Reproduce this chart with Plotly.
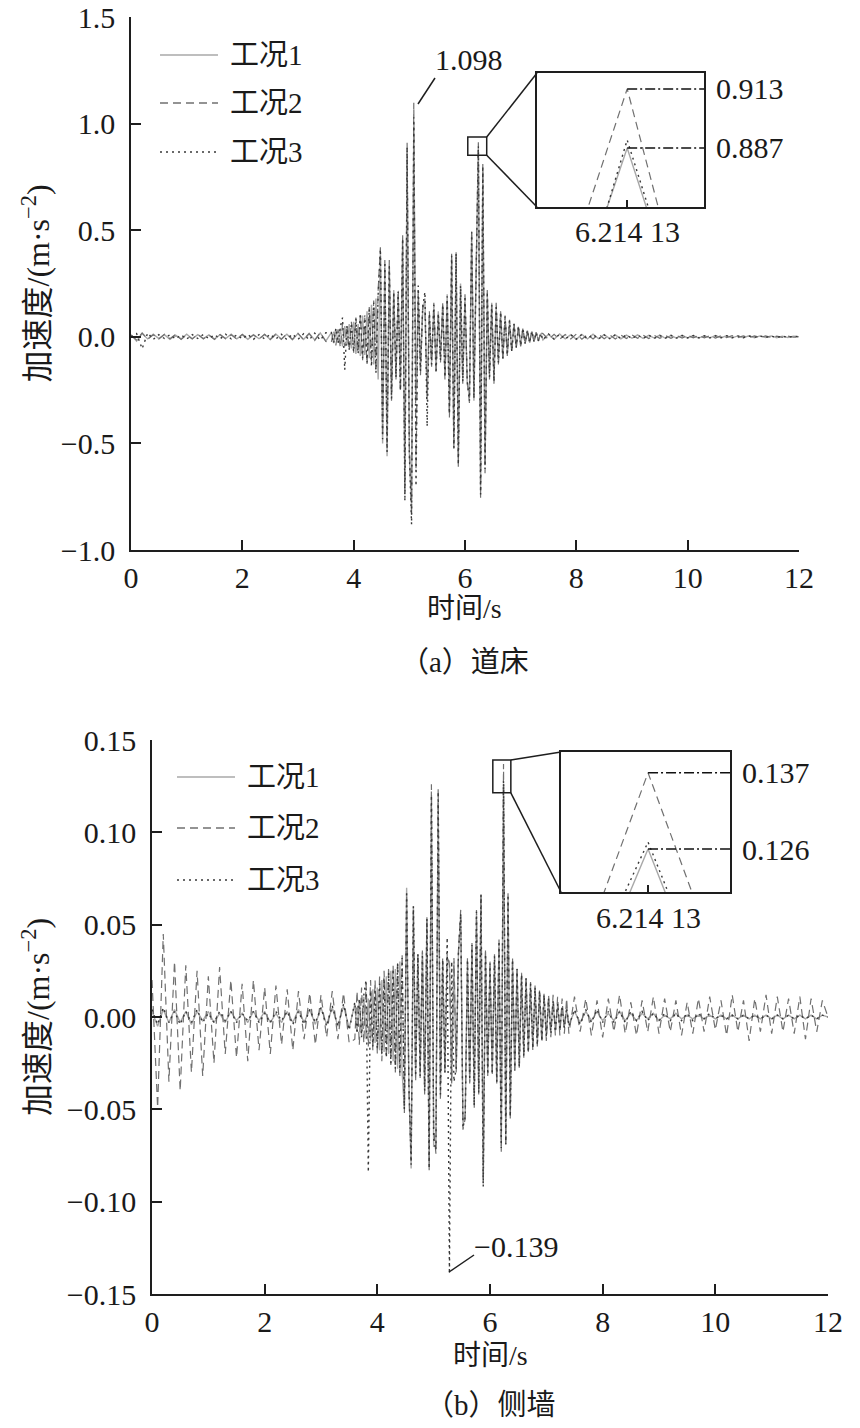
import numpy as np
import plotly.graph_objects as go

# the figure fills the 860x1428 page; a small post-script removes the default body margin
PAGE_W, PAGE_H, OFF = 860, 1428, 0
W, H = PAGE_W - 2 * OFF, PAGE_H - 2 * OFF

# ---------------- time grid (s) ----------------
t_q1 = np.arange(36) * 0.1            # 0.0 .. 3.5
t_act = 3.6 + np.arange(95) * 0.04    # 3.60 .. 7.36
t_q2 = 7.4 + np.arange(47) * 0.1      # 7.4 .. 12.0
t = np.round(np.concatenate([t_q1, t_act, t_q2]), 3)

# ---------------- (a) 道床  acceleration (m/s^2) ----------------
a1_q1 = [0.01,-0.02,0.015,-0.01,0.012,-0.008,0.01,-0.012,0.008,-0.01,0.012,-0.009,0.01,-0.008,0.009,-0.011,0.01,-0.008,
         0.012,-0.01,0.009,-0.012,0.01,-0.009,0.011,-0.012,0.013,-0.01,0.012,-0.014,0.015,-0.013,0.016,-0.015,0.018,-0.02]
a1_act = [0.02,-0.03,0.035,-0.025,0.04,-0.045,0.05,-0.04,0.06,-0.055,
          0.07,-0.08,0.06,-0.09,0.1,-0.085,0.12,-0.1,0.15,-0.13,
          0.18,-0.2,0.40,-0.50,0.34,-0.56,0.33,-0.28,0.22,-0.18,
          0.2,-0.24,0.45,-0.70,0.85,-0.55,-0.80,0.98,-0.3,0.2,
          -0.15,0.12,0.18,-0.3,0.1,-0.12,0.14,-0.16,0.12,-0.1,
          0.15,-0.18,0.2,-0.35,0.37,-0.5,0.38,-0.58,0.25,-0.2,
          0.18,-0.22,-0.28,0.48,-0.3,0.4,0.887,-0.72,0.78,-0.6,
          0.2,-0.18,0.16,-0.2,0.14,-0.12,0.11,-0.1,0.09,-0.08,
          0.07,-0.065,0.06,-0.05,0.045,-0.04,0.035,-0.03,0.03,-0.025,
          0.025,-0.02,0.02,-0.018,0.015]
a1_q2 = [-0.015,0.012,-0.012,0.013,-0.01,0.01,-0.012,0.011,-0.01,0.012,
         -0.009,0.01,-0.008,0.009,-0.01,0.008,-0.007,0.009,-0.008,0.007,
         -0.006,0.008,-0.007,0.006,-0.006,0.007,-0.005,0.006,-0.006,0.005,
         -0.005,0.006,-0.004,0.005,-0.005,0.004,-0.004,0.005,-0.004,0.004,
         -0.003,0.004,-0.004,0.003,-0.003,0.003,0.0]

a2_q1 = [0.008,-0.015,0.018,-0.012,0.01,-0.01,0.012,-0.009,0.011,-0.012,0.009,-0.01,0.012,-0.01,0.008,-0.012,0.011,-0.009,
         0.01,-0.011,0.012,-0.01,0.009,-0.011,0.012,-0.013,0.011,-0.012,0.014,-0.012,0.016,-0.014,0.015,-0.017,0.02,-0.022]
a2_act = [-0.025,0.03,-0.04,0.035,-0.05,0.06,-0.045,0.055,-0.065,0.07,
          -0.075,0.09,-0.07,0.1,-0.11,0.09,-0.13,0.14,-0.12,0.17,
          -0.16,0.22,0.42,-0.46,0.36,-0.5,0.36,-0.3,0.2,-0.2,
          0.22,-0.26,0.48,-0.74,0.91,-0.5,-0.84,1.098,-0.62,0.22,
          -0.18,0.15,0.12,-0.28,0.12,-0.14,0.16,-0.15,0.1,-0.12,
          0.16,-0.2,0.18,-0.38,0.39,-0.53,0.4,-0.61,0.22,-0.22,
          0.2,-0.2,-0.31,0.5,-0.28,0.35,0.913,-0.76,0.81,-0.64,
          0.22,-0.2,0.15,-0.22,0.16,-0.13,0.12,-0.11,0.1,-0.09,
          0.08,-0.07,0.065,-0.055,0.05,-0.045,0.04,-0.035,0.03,-0.03,
          0.028,-0.025,0.022,-0.02,0.018]
a2_q2 = [0.015,-0.013,0.012,-0.012,0.011,-0.01,0.013,-0.011,0.01,-0.01,
         0.012,-0.009,0.009,-0.01,0.008,-0.008,0.009,-0.007,0.008,-0.008,
         0.007,-0.007,0.006,-0.007,0.006,-0.006,0.007,-0.005,0.006,-0.005,
         0.005,-0.006,0.005,-0.004,0.005,-0.004,0.004,-0.004,0.004,-0.003,
         0.004,-0.003,0.003,-0.003,0.003,-0.002,0.0]

a3_q1 = [0.0,0.015,-0.056,0.018,-0.012,0.01,-0.008,0.01,-0.01,0.009,-0.011,0.01,-0.008,0.011,-0.009,0.01,-0.01,0.012,
         -0.01,0.009,-0.01,0.011,-0.012,0.01,-0.01,0.012,-0.011,0.012,-0.013,0.013,-0.012,0.014,-0.015,0.017,-0.016,0.019]
a3_act = [0.02,-0.03,0.04,-0.03,0.045,0.09,-0.155,0.05,-0.06,0.065,
          -0.07,0.085,-0.08,0.11,-0.1,0.1,-0.12,0.13,-0.14,0.16,
          -0.17,0.2,0.41,-0.48,0.35,-0.54,0.34,-0.29,0.21,-0.19,
          0.21,-0.25,0.46,-0.77,0.89,-0.55,-0.88,1.03,-0.7,0.24,
          -0.16,0.14,0.21,-0.42,0.11,-0.13,0.15,-0.17,0.11,-0.11,
          0.15,-0.19,0.19,-0.36,0.38,-0.52,0.39,-0.6,0.24,-0.21,
          0.19,-0.21,-0.3,0.49,-0.29,0.38,0.895,-0.74,0.8,-0.62,
          0.21,-0.19,0.15,-0.21,0.15,-0.12,0.115,-0.1,0.095,-0.085,
          0.075,-0.07,0.06,-0.05,0.05,-0.04,0.04,-0.032,0.03,-0.028,
          0.026,-0.022,0.02,-0.019,0.016]
a3_q2 = [-0.014,0.013,-0.011,0.012,-0.011,0.01,-0.011,0.012,-0.009,0.011,
         -0.01,0.009,-0.009,0.01,-0.008,0.009,-0.008,0.008,-0.007,0.008,
         -0.007,0.006,-0.006,0.007,-0.006,0.006,-0.005,0.006,-0.005,0.005,
         -0.005,0.005,-0.004,0.005,-0.004,0.004,-0.004,0.004,-0.003,0.004,
         -0.003,0.003,-0.003,0.003,-0.002,0.002,0.0]

# ---------------- (b) 侧墙 acceleration (m/s^2) ----------------
b1_q1 = [0.003,-0.005,0.004,-0.003,0.004,-0.003,0.003,-0.004,0.003,-0.002,0.003,-0.003,0.002,-0.003,0.003,-0.002,0.002,-0.003,
         0.003,-0.002,0.003,-0.003,0.002,-0.003,0.003,-0.003,0.004,-0.003,0.004,-0.004,0.005,-0.004,0.005,-0.005,0.006,-0.006]
b1_act = [0.007,-0.008,0.009,-0.01,0.011,-0.012,0.01,-0.013,0.015,-0.014,
          0.016,-0.018,0.02,-0.019,0.022,-0.02,0.025,-0.024,0.026,-0.028,
          0.03,-0.03,-0.05,0.07,-0.035,-0.082,0.06,-0.03,0.032,-0.03,
          0.035,-0.04,0.052,-0.08,0.118,-0.07,-0.07,0.116,-0.04,0.03,
          -0.028,0.032,0.03,-0.035,0.03,-0.028,0.034,0.055,-0.058,-0.052,
          0.03,-0.035,0.038,-0.045,0.056,-0.04,0.065,-0.09,0.035,-0.03,
          0.028,-0.03,0.032,-0.035,0.04,-0.07,0.126,-0.068,0.065,-0.053,
          0.03,-0.028,0.025,-0.026,0.022,-0.02,0.02,-0.018,0.017,-0.016,
          0.015,-0.014,0.013,-0.012,0.011,-0.01,0.009,-0.008,0.008,-0.007,
          0.006,-0.006,0.005,-0.005,0.004]
b1_q2 = [-0.004,0.003,-0.003,0.003,-0.002,0.003,-0.002,0.002,-0.002,0.003,
         -0.002,0.002,-0.002,0.002,-0.001,0.002,-0.002,0.001,-0.001,0.002,
         -0.001,0.001,-0.001,0.001,-0.001,0.001,-0.001,0.001,-0.001,0.001,
         -0.001,0.001,-0.001,0.001,-0.001,0.001,-0.001,0.001,-0.001,0.001,
         -0.001,0.001,-0.001,0.001,-0.001,0.001,0.0]

b2_q1 = [0.02,-0.049,0.045,-0.035,0.03,-0.04,0.028,-0.03,0.025,-0.032,
         0.022,-0.025,0.027,-0.02,0.02,-0.022,0.018,-0.024,0.02,-0.018,
         0.016,-0.02,0.017,-0.015,0.015,-0.018,0.014,-0.012,0.013,-0.015,
         0.012,-0.011,0.014,-0.012,0.013,-0.014]
b2_act = [-0.012,0.014,-0.015,0.016,-0.014,0.018,-0.016,0.02,-0.018,0.02,
          -0.02,0.022,-0.024,0.025,-0.022,0.027,-0.026,0.028,-0.03,0.03,
          -0.032,0.034,-0.052,0.066,-0.04,-0.078,0.058,-0.035,0.035,-0.033,
          0.036,-0.042,0.054,-0.083,0.126,-0.06,-0.074,0.124,-0.045,0.032,
          -0.03,0.034,0.028,-0.036,0.032,-0.03,0.036,0.058,-0.061,-0.055,
          0.032,-0.036,0.04,-0.05,0.058,-0.042,0.067,-0.088,0.036,-0.032,
          0.03,-0.032,0.034,-0.036,0.042,-0.073,0.137,-0.07,0.067,-0.055,
          0.032,-0.03,0.027,-0.028,0.024,-0.022,0.022,-0.02,0.019,-0.018,
          0.017,-0.016,0.015,-0.014,0.013,-0.013,0.012,-0.011,0.012,-0.01,
          0.011,-0.01,0.01,-0.009,0.01]
b2_q2 = [-0.009,0.011,-0.008,0.01,-0.01,0.009,-0.011,0.01,-0.008,0.012,
         -0.009,0.008,-0.01,0.009,-0.008,0.011,-0.009,0.01,-0.008,0.009,
         -0.01,0.008,-0.009,0.01,-0.008,0.011,-0.007,0.009,-0.01,0.012,
         -0.008,0.009,-0.013,0.01,-0.008,0.012,-0.009,0.011,-0.008,0.01,
         -0.009,0.011,-0.012,0.01,-0.008,0.009,0.0]

b3_q1 = [0.004,-0.004,0.005,-0.003,0.003,-0.004,0.003,-0.003,0.004,-0.003,0.002,-0.003,0.003,-0.002,0.003,-0.003,0.002,-0.002,
         0.003,-0.003,0.002,-0.003,0.003,-0.002,0.003,-0.004,0.003,-0.004,0.004,-0.003,0.005,-0.005,0.006,-0.005,0.007,-0.007]
b3_act = [0.008,-0.009,0.01,-0.011,0.012,0.02,-0.084,0.014,-0.016,0.015,
          -0.017,0.018,-0.02,0.021,-0.022,0.024,-0.025,0.026,-0.028,0.029,
          -0.03,0.032,-0.05,0.068,-0.036,-0.08,0.06,-0.032,0.034,-0.032,
          0.034,-0.04,0.053,-0.082,0.12,-0.066,-0.072,0.122,-0.042,0.031,
          -0.03,0.043,-0.139,0.03,-0.035,-0.028,0.035,0.056,-0.06,-0.054,
          0.031,-0.034,0.039,-0.048,0.057,-0.041,0.066,-0.092,0.034,-0.031,
          0.029,-0.031,0.033,-0.035,0.041,-0.071,0.128,-0.069,0.066,-0.054,
          0.031,-0.029,0.026,-0.027,0.023,-0.021,0.021,-0.019,0.018,-0.017,
          0.016,-0.015,0.014,-0.013,0.012,-0.011,0.01,-0.009,0.009,-0.008,
          0.007,-0.007,0.006,-0.006,0.005]
b3_q2 = [-0.005,0.004,-0.004,0.004,-0.003,0.004,-0.003,0.003,-0.003,0.003,
         -0.003,0.003,-0.002,0.003,-0.002,0.002,-0.002,0.002,-0.002,0.002,
         -0.002,0.002,-0.002,0.002,-0.001,0.002,-0.001,0.001,-0.001,0.001,
         -0.001,0.001,-0.001,0.001,-0.001,0.001,-0.001,0.001,-0.001,0.001,
         -0.001,0.001,-0.001,0.001,-0.001,0.001,0.0]

# ---------------- zoomed peak near t = 6.214 13 s ----------------
peak_t = 6.21413
inset_t = [6.21213, 6.21413, 6.21613]
inset_a = {"工况1": [0.800, 0.887, 0.796], "工况2": [0.824, 0.913, 0.801], "工况3": [0.792, 0.8905, 0.797]}
inset_b = {"工况1": [0.1028, 0.126, 0.1014], "工况2": [0.1105, 0.137, 0.1105], "工况3": [0.1058, 0.127, 0.1027]}
labels_a = [0.913, 0.887]
labels_b = [0.137, 0.126]
max_a = 1.098
min_b = -0.139

names = ["工况1", "工况2", "工况3"]
series_a = [a1_q1 + a1_act + a1_q2, a2_q1 + a2_act + a2_q2, a3_q1 + a3_act + a3_q2]
series_b = [b1_q1 + b1_act + b1_q2, b2_q1 + b2_act + b2_q2, b3_q1 + b3_act + b3_q2]
for s in series_a + series_b:
    assert len(s) == len(t), len(s)

# ---------------- styles ----------------
FONT = "Liberation Serif, Times New Roman, Noto Sans CJK SC, serif"
AX = "#1e1e1e"
styles = [dict(color="#a8a8a8", width=1.4, dash="solid"),
          dict(color="#707070", width=1.2, dash="8px,5px"),
          dict(color="#383838", width=1.4, dash="2px,4px")]

# geometry (page pixels) of plot areas
GA = dict(x0=131, x1=799, yb=550, yt=17, xr=(0, 12), yr=(-1.0, 1.5))
GB = dict(x0=152, x1=828, yb=1294, yt=740, xr=(0, 12), yr=(-0.15, 0.15))
IA = dict(x0=537, x1=704, yb=207, yt=73, xr=(peak_t - 0.0027, peak_t + 0.0023), yr=(0.861, 0.920))
IB = dict(x0=561, x1=730, yb=892, yt=752, xr=(peak_t - 0.002575, peak_t + 0.002425), yr=(0.1198, 0.1400))
BOX_A = dict(xr=(6.05, 6.39), yr=(0.852, 0.937))
BOX_B = dict(xr=(6.05, 6.37), yr=(0.1214, 0.1392))


def px(v):
    return (v - OFF) / W


def py(v):
    return 1 - (v - OFF) / H


def dom(g):
    return [px(g["x0"]), px(g["x1"])], [py(g["yb"]), py(g["yt"])]


def d2p(g, tx, vy):
    x = g["x0"] + (tx - g["xr"][0]) / (g["xr"][1] - g["xr"][0]) * (g["x1"] - g["x0"])
    y = g["yb"] + (vy - g["yr"][0]) / (g["yr"][1] - g["yr"][0]) * (g["yt"] - g["yb"])
    return x, y


fig = go.Figure()
for k in range(3):
    fig.add_trace(go.Scatter(x=t, y=series_a[k], mode="lines", name=names[k], line=styles[k],
                             xaxis="x", yaxis="y", showlegend=False))
    fig.add_trace(go.Scatter(x=t, y=series_b[k], mode="lines", name=names[k], line=styles[k],
                             xaxis="x2", yaxis="y2", showlegend=False))
    fig.add_trace(go.Scatter(x=inset_t, y=inset_a[names[k]], mode="lines", line=styles[k],
                             xaxis="x3", yaxis="y3", showlegend=False))
    fig.add_trace(go.Scatter(x=inset_t, y=inset_b[names[k]], mode="lines", line=styles[k],
                             xaxis="x4", yaxis="y4", showlegend=False))

TICKFONT = dict(family=FONT, size=30, color="#1a1a1a")
main_x = dict(showgrid=False, zeroline=False, showline=True, linecolor=AX, linewidth=1.5, automargin=False,
              ticks="inside", ticklen=10, tickwidth=1.5, tickcolor=AX, ticklabeloverflow="allow",
              tickfont=TICKFONT, range=[0, 12], dtick=2, tick0=0, ticklabelstandoff=0)
main_y = dict(showgrid=False, zeroline=False, showline=True, linecolor=AX, linewidth=1.5, automargin=False,
              ticks="inside", ticklen=10, tickwidth=1.5, tickcolor=AX, ticklabeloverflow="allow",
              tickfont=TICKFONT, ticklabelstandoff=8)
inset_x = dict(showgrid=False, zeroline=False, showline=True, mirror=True, linecolor=AX, linewidth=1.5,
               automargin=False, ticks="inside", ticklen=7, tickwidth=1.5, tickcolor=AX,
               tickvals=[peak_t], showticklabels=False)
inset_y = dict(showgrid=False, zeroline=False, showline=True, mirror=True, linecolor=AX, linewidth=1.5,
               automargin=False, showticklabels=False, ticks="")

xa, ya = dom(GA)
xb, yb = dom(GB)
xia, yia = dom(IA)
xib, yib = dom(IB)
fig.update_layout(
    template="none",
    width=W, height=H, margin=dict(l=0, r=0, t=0, b=0, pad=0),
    paper_bgcolor="white", plot_bgcolor="rgba(0,0,0,0)", showlegend=False,
    font=dict(family=FONT, color="#1a1a1a"),
    xaxis=dict(main_x, domain=xa, anchor="y"),
    yaxis=dict(main_y, domain=ya, anchor="x", range=list(GA["yr"]), dtick=0.5, tick0=0, tickformat=".1f"),
    xaxis2=dict(main_x, domain=xb, anchor="y2"),
    yaxis2=dict(main_y, domain=yb, anchor="x2", range=list(GB["yr"]), dtick=0.05, tick0=0, tickformat=".2f"),
    xaxis3=dict(inset_x, domain=xia, anchor="y3", range=list(IA["xr"])),
    yaxis3=dict(inset_y, domain=yia, anchor="x3", range=list(IA["yr"])),
    xaxis4=dict(inset_x, domain=xib, anchor="y4", range=list(IB["xr"])),
    yaxis4=dict(inset_y, domain=yib, anchor="x4", range=list(IB["yr"])),
)

shapes = []
ann = []
LINE = dict(color=AX, width=1.5)

panels = [
    (GA, IA, BOX_A, labels_a, "x3", "y3", [55, 103, 152], 160, 283.5, 608, 662, "（a）道床"),
    (GB, IB, BOX_B, labels_b, "x4", "y4", [777, 828, 880], 177, 1017, 1355, 1405, "（b）侧墙"),
]
for g, ig, box, labs, xr_name, yr_name, leg_y, leg_x0, ycap, xt_y, cap_y, cap in panels:
    # zoom box in main axes
    bx0, by0 = d2p(g, box["xr"][0], box["yr"][0])
    bx1, by1 = d2p(g, box["xr"][1], box["yr"][1])
    shapes.append(dict(type="rect", xref="paper", yref="paper", x0=px(bx0), x1=px(bx1), y0=py(by0), y1=py(by1),
                       line=LINE, fillcolor="rgba(0,0,0,0)"))
    # connectors to inset
    shapes.append(dict(type="line", xref="paper", yref="paper", x0=px(bx1), y0=py(by1), x1=px(ig["x0"]), y1=py(ig["yt"]), line=LINE))
    shapes.append(dict(type="line", xref="paper", yref="paper", x0=px(bx1), y0=py(by0), x1=px(ig["x0"]), y1=py(ig["yb"]), line=LINE))
    # inset tick label
    tx, _ = d2p(ig, peak_t, ig["yr"][0])
    ann.append(dict(xref="paper", yref="paper", x=px(tx), y=py(ig["yb"] + 25), text="6.214 13",
                    showarrow=False, xanchor="center", yanchor="middle", font=dict(family=FONT, size=30)))
    # dash-dot leaders + labels
    for v in labs:
        shapes.append(dict(type="line", xref=xr_name, yref=yr_name, x0=peak_t, x1=ig["xr"][1], y0=v, y1=v,
                           line=dict(color="#111", width=1.5, dash="10px,3px,2px,3px")))
        _, ly = d2p(ig, peak_t, v)
        ann.append(dict(xref="paper", yref="paper", x=px(ig["x1"] + 10), y=py(ly), text=f"{v:.3f}",
                        showarrow=False, xanchor="left", yanchor="middle", font=dict(family=FONT, size=30)))
    # legend
    for k in range(3):
        st = styles[k]
        shapes.append(dict(type="line", xref="paper", yref="paper", x0=px(leg_x0), x1=px(leg_x0 + 58),
                           y0=py(leg_y[k]), y1=py(leg_y[k]), line=dict(color=st["color"], width=1.5, dash=st["dash"])))
        ann.append(dict(xref="paper", yref="paper", x=px(leg_x0 + 68), y=py(leg_y[k]), text=names[k],
                        showarrow=False, xanchor="left", yanchor="middle", font=dict(family=FONT, size=29)))
    # axis titles and caption
    ann.append(dict(xref="paper", yref="paper", x=px(36), y=py(ycap), text="加速度/(m·s<sup>−2</sup>)",
                    textangle=-90, showarrow=False, xanchor="center", yanchor="middle", font=dict(family=FONT, size=32)))
    xc = (g["x0"] + g["x1"]) / 2
    ann.append(dict(xref="paper", yref="paper", x=px(xc), y=py(xt_y), text="时间/s",
                    showarrow=False, xanchor="center", yanchor="middle", font=dict(family=FONT, size=28)))
    ann.append(dict(xref="paper", yref="paper", x=px(xc), y=py(cap_y), text=cap,
                    showarrow=False, xanchor="center", yanchor="middle", font=dict(family=FONT, size=29)))

# extreme value labels
shapes.append(dict(type="line", xref="paper", yref="paper", x0=px(418), y0=py(104), x1=px(435), y1=py(78), line=LINE))
ann.append(dict(xref="paper", yref="paper", x=px(433), y=py(60), text=f"{max_a:.3f}", showarrow=False,
                xanchor="left", yanchor="middle", font=dict(family=FONT, size=30)))
shapes.append(dict(type="line", xref="paper", yref="paper", x0=px(449), y0=py(1272), x1=px(474), y1=py(1255), line=LINE))
ann.append(dict(xref="paper", yref="paper", x=px(472), y=py(1246), text=f"{min_b:.3f}".replace("-", "−"),
                showarrow=False, xanchor="left", yanchor="middle", font=dict(family=FONT, size=30)))

fig.update_layout(shapes=shapes, annotations=ann)
fig.write_html("out.html", config={"displayModeBar": False},
               post_script="document.body.style.margin='0';")
